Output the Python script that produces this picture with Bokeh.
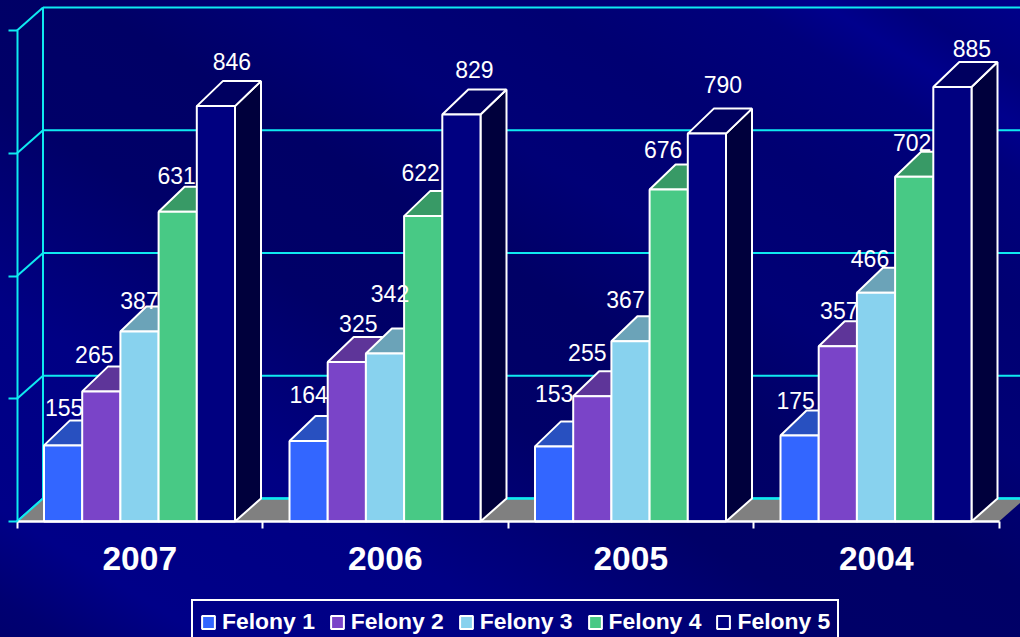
from bokeh.plotting import figure
from bokeh.embed import file_html
from bokeh.resources import INLINE
from bokeh.models import (ColumnDataSource, FixedTicker, Legend, LegendItem, LinearAxis, Range1d)

years = ["2007", "2006", "2005", "2004"]
series_names = ["Felony 1", "Felony 2", "Felony 3", "Felony 4", "Felony 5"]
felony_1 = [155, 164, 153, 175]
felony_2 = [265, 325, 255, 357]
felony_3 = [387, 342, 367, 466]
felony_4 = [631, 622, 676, 702]
felony_5 = [846, 829, 790, 885]
value_ticks = [0, 250, 500, 750, 1000]

series = [felony_1, felony_2, felony_3, felony_4, felony_5]
front = ["#3366FF", "#7A44C8", "#88D2EE", "#48C985", "#000080"]
top_c = ["#2850C0", "#5E3599", "#6BA3B8", "#389A66", "#000060"]
side_c = ["#1C3A8C", "#452670", "#4E7787", "#28704A", "#00003C"]
CYAN = "#0FEAF0"

# Hand-placed label offsets of the original, pixels from the bar's front-top centre
label_dx = [[1, 0, 0, -4], [-7, 11.5, -5, 1.5], [0, 5, -5, -6], [-1, -2.5, -5.5, -2], [16, 13, 16, 19.5]]
label_dy = [[38, 46, 53, 35], [37, 38, 44, 36], [31, 60, 42, 34], [36, 44, 40, 34], [45, 45, 49, 38]]

PX_X = 245.5          # pixels per category
PX_Y = 0.491          # pixels per value unit
DX = 26 / PX_X        # 3-D depth in x units
DY = 23 / PX_Y        # wall depth in value units
DY_TOP = 25 / PX_Y    # depth of the bar tops
BAR_START = 0.11
BAR_W = 0.1556

p = figure(width=1020, height=637, frame_width=1020, frame_height=637,
           output_backend="svg", toolbar_location=None,
           x_range=Range1d(-16.5 / PX_X, 1003.5 / PX_X), y_range=Range1d(-116 / PX_Y, 521 / PX_Y),
           x_axis_type=None, y_axis_type=None,
           min_border_left=0, min_border_right=0, min_border_top=0, min_border_bottom=0)
p.outline_line_color = None
p.background_fill_alpha = 0
p.border_fill_alpha = 0
p.grid.visible = False
p.styles = {
    "position": "fixed", "left": "0", "top": "0",
    "background": ("linear-gradient(212deg, #00008A 0%, #00007C 6%, #00008C 10%, #00007C 14%, #000072 24%, "
                   "#000076 36%, #000066 46%, #000068 58%, #000076 66%, #000084 74%, #000088 90%, #000072 97%, #00006E 100%)"),
}

# Walls
p.segment(x0=[DX] * 5, y0=[v + DY for v in value_ticks], x1=[4 + DX] * 5, y1=[v + DY for v in value_ticks],
          line_color=CYAN, line_width=2)
p.segment(x0=[0] * 5, y0=value_ticks, x1=[DX] * 5, y1=[v + DY for v in value_ticks],
          line_color=CYAN, line_width=2)
p.segment(x0=[DX], y0=[DY], x1=[DX], y1=[value_ticks[-1] + DY], line_color=CYAN, line_width=2)
# Floor
p.patch([0, 4, 4 + DX, DX], [0, 0, DY, DY], fill_color="#808080", line_color=None)
p.segment(x0=[DX], y0=[DY], x1=[4 + DX], y1=[DY], line_color=CYAN, line_width=2.5)
p.segment(x0=[0], y0=[0], x1=[DX], y1=[DY], line_color=CYAN, line_width=2)

items = []
for s, vals in enumerate(series):
    left = [i + BAR_START + s * BAR_W for i in range(4)]
    right = [x + BAR_W for x in left]
    p.patches([[r, r + DX, r + DX, r] for r in right],
              [[0, DY, v + DY_TOP, v] for v in vals],
              fill_color=side_c[s], line_color="white", line_width=2)
    p.patches([[l, r, r + DX, l + DX] for l, r in zip(left, right)],
              [[v, v, v + DY_TOP, v + DY_TOP] for v in vals],
              fill_color=top_c[s], line_color="white", line_width=2)
    src = ColumnDataSource(dict(x=[(l + r) / 2 for l, r in zip(left, right)], top=vals))
    r_front = p.vbar(x="x", top="top", bottom=0, width=BAR_W, source=src,
                     fill_color=front[s], line_color="white", line_width=2)
    items.append(LegendItem(label=series_names[s], renderers=[r_front]))

# Value labels drawn above all bars
for s, vals in enumerate(series):
    left = [i + BAR_START + s * BAR_W for i in range(4)]
    src = ColumnDataSource(dict(x=[l + BAR_W / 2 for l in left], y=vals, t=[str(v) for v in vals],
                                dx=label_dx[s], dy=[-d for d in label_dy[s]]))
    p.text(x="x", y="y", text="t", source=src, x_offset="dx", y_offset="dy",
           text_color="white", text_font_size="23px", text_align="center", text_baseline="middle",
           text_font={"value": "Liberation Sans"})

# Axes
ax = LinearAxis(ticker=FixedTicker(ticks=[i + 0.5 for i in range(4)], minor_ticks=[0, 1, 2, 3, 4]),
                fixed_location=0,
                bounds=(0, 4), axis_line_color="white", axis_line_width=2.5,
                major_tick_line_color=None, minor_tick_line_color="white", minor_tick_line_width=2,
                minor_tick_out=7, minor_tick_in=0, major_tick_in=0, major_tick_out=0,
                major_label_text_color="white", major_label_text_font_size="33.5px",
                major_label_text_font="Liberation Sans", major_label_text_font_style="bold",
                major_label_standoff=18,
                major_label_overrides={i + 0.5: y for i, y in enumerate(years)})
p.add_layout(ax, "below")
ay = LinearAxis(ticker=FixedTicker(ticks=value_ticks), bounds=(0, value_ticks[-1]),
                fixed_location=0,
                axis_line_color=CYAN, axis_line_width=2,
                major_tick_line_color=CYAN, major_tick_line_width=2, major_tick_out=9, major_tick_in=0,
                minor_tick_line_color=None, major_label_text_color=None, major_label_text_font_size="10px",
                major_label_standoff=0, major_label_overrides={v: "" for v in value_ticks})
p.add_layout(ay, "left")

legend = Legend(items=items, orientation="horizontal", location=(191, -7),
                background_fill_alpha=0, border_line_color="white", border_line_alpha=1, border_line_width=2,
                label_text_color="white", label_text_font="Liberation Sans", label_text_font_style="bold",
                label_text_font_size="22.9px", glyph_width=16, glyph_height=16, label_standoff=6,
                spacing=14, padding=7, margin=0)
p.add_layout(legend, "center")

html = file_html(p, INLINE)
open("out.html", "w").write(html)
